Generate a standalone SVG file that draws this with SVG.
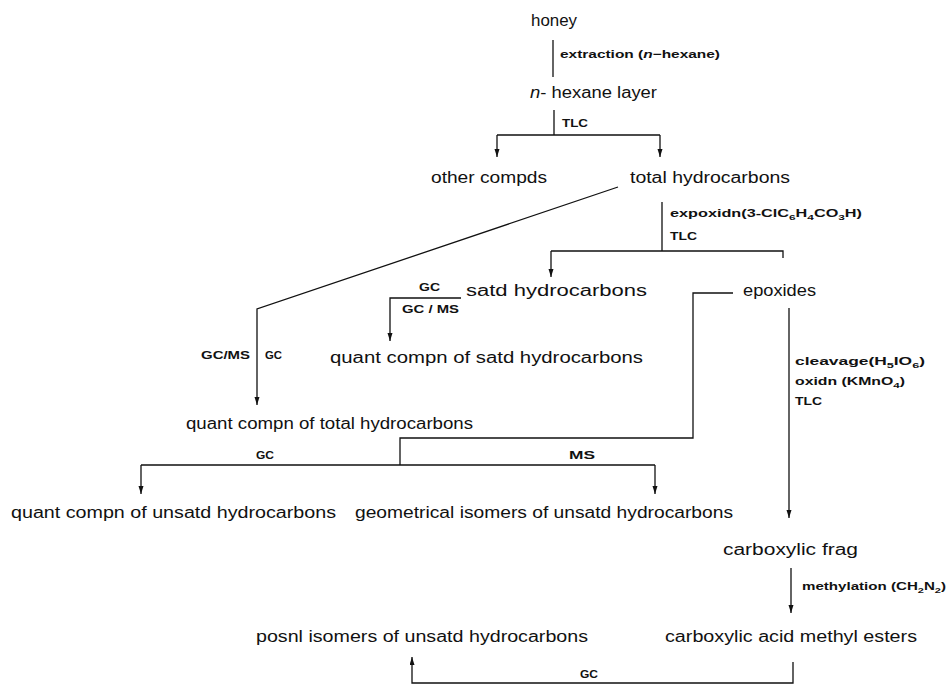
<svg xmlns="http://www.w3.org/2000/svg" width="947" height="685" viewBox="0 0 947 685">
<style>
.n{font-family:"Liberation Sans",Arial,sans-serif;font-size:16px;fill:#111}
.l{font-family:"Liberation Sans",Arial,sans-serif;font-size:11px;font-weight:bold;fill:#111}
.c{fill:none;stroke:#111;stroke-width:1.3}
.s{font-size:8px}
</style>
<defs>
<marker id="ah" markerWidth="9" markerHeight="6" refX="8" refY="2.5" orient="auto" markerUnits="userSpaceOnUse">
<path d="M0,0 L8,2.5 L0,5 z" fill="#111"/>
</marker>
</defs>
<rect width="947" height="685" fill="#fff"/>
<g id="connectors">
<path class="c" d="M553,40 V77"/>
<path class="c" d="M554,110 V135 M497,135 H660"/>
<path class="c" d="M497,135 V157" marker-end="url(#ah)"/>
<path class="c" d="M660,135 V157" marker-end="url(#ah)"/>
<path class="c" d="M618,187 L257,309 V405" marker-end="url(#ah)"/>
<path class="c" d="M662,202 V251 M551,251 H783 V258"/>
<path class="c" d="M551,251 V277" marker-end="url(#ah)"/>
<path class="c" d="M461,298 H390 V341" marker-end="url(#ah)"/>
<path class="c" d="M733,293 H693 V438 H400 V465 M141,465 H655"/>
<path class="c" d="M141,465 V494" marker-end="url(#ah)"/>
<path class="c" d="M655,465 V494" marker-end="url(#ah)"/>
<path class="c" d="M789,308 V518" marker-end="url(#ah)"/>
<path class="c" d="M791,568 V613" marker-end="url(#ah)"/>
<path class="c" d="M793,662 V683 H412 V657" marker-end="url(#ah)"/>
<text class="l" x="560" y="58" textLength="160" lengthAdjust="spacingAndGlyphs">extraction (<tspan font-style="italic">n</tspan>−hexane)</text>
<text class="l" x="562" y="127" textLength="26" lengthAdjust="spacingAndGlyphs">TLC</text>
<text class="l" x="670" y="217" textLength="192" lengthAdjust="spacingAndGlyphs">expoxidn(3-ClC<tspan class="s" dy="3">6</tspan><tspan dy="-3">H</tspan><tspan class="s" dy="3">4</tspan><tspan dy="-3">CO</tspan><tspan class="s" dy="3">3</tspan><tspan dy="-3">H)</tspan></text>
<text class="l" x="670" y="240" textLength="27" lengthAdjust="spacingAndGlyphs">TLC</text>
<text class="l" x="419" y="291" textLength="21" lengthAdjust="spacingAndGlyphs">GC</text>
<text class="l" x="402" y="313" textLength="57" lengthAdjust="spacingAndGlyphs">GC / MS</text>
<text class="l" x="201" y="359" textLength="49" lengthAdjust="spacingAndGlyphs">GC/MS</text>
<text class="l" x="265" y="359" textLength="17" lengthAdjust="spacingAndGlyphs">GC</text>
<text class="l" x="256" y="459" textLength="18" lengthAdjust="spacingAndGlyphs">GC</text>
<text class="l" x="569" y="459" textLength="26" lengthAdjust="spacingAndGlyphs">MS</text>
<text class="l" x="795" y="365" textLength="130" lengthAdjust="spacingAndGlyphs">cleavage(H<tspan class="s" dy="3">5</tspan><tspan dy="-3">IO</tspan><tspan class="s" dy="3">6</tspan><tspan dy="-3">)</tspan></text>
<text class="l" x="795" y="385" textLength="110" lengthAdjust="spacingAndGlyphs">oxidn (KMnO<tspan class="s" dy="3">4</tspan><tspan dy="-3">)</tspan></text>
<text class="l" x="795" y="405" textLength="27" lengthAdjust="spacingAndGlyphs">TLC</text>
<text class="l" x="802" y="590" textLength="144" lengthAdjust="spacingAndGlyphs">methylation (CH<tspan class="s" dy="3">2</tspan><tspan dy="-3">N</tspan><tspan class="s" dy="3">2</tspan><tspan dy="-3">)</tspan></text>
<text class="l" x="580" y="678" textLength="18" lengthAdjust="spacingAndGlyphs">GC</text>
</g>
<g id="honey"><text class="n" x="531" y="26" textLength="46" lengthAdjust="spacingAndGlyphs">honey</text></g>
<g id="hexane-layer"><text class="n" x="530" y="98" textLength="127" lengthAdjust="spacingAndGlyphs"><tspan font-style="italic">n</tspan>- hexane layer</text></g>
<g id="other-compds"><text class="n" x="431" y="183" textLength="116" lengthAdjust="spacingAndGlyphs">other compds</text></g>
<g id="total-hydrocarbons"><text class="n" x="630" y="183" textLength="160" lengthAdjust="spacingAndGlyphs">total  hydrocarbons</text></g>
<g id="satd-hydrocarbons"><text class="n" x="466" y="296" textLength="181" lengthAdjust="spacingAndGlyphs">satd  hydrocarbons</text></g>
<g id="epoxides"><text class="n" x="743" y="296" textLength="73" lengthAdjust="spacingAndGlyphs">epoxides</text></g>
<g id="quant-satd"><text class="n" x="330" y="363" textLength="313" lengthAdjust="spacingAndGlyphs">quant  compn of satd hydrocarbons</text></g>
<g id="quant-total"><text class="n" x="186" y="429" textLength="287" lengthAdjust="spacingAndGlyphs">quant  compn  of  total  hydrocarbons</text></g>
<g id="quant-unsatd"><text class="n" x="11" y="518" textLength="325" lengthAdjust="spacingAndGlyphs">quant  compn of unsatd hydrocarbons</text></g>
<g id="geometrical-isomers"><text class="n" x="355" y="518" textLength="378" lengthAdjust="spacingAndGlyphs">geometrical isomers of unsatd hydrocarbons</text></g>
<g id="carboxylic-frag"><text class="n" x="723" y="555" textLength="135" lengthAdjust="spacingAndGlyphs">carboxylic  frag</text></g>
<g id="posnl-isomers"><text class="n" x="256" y="642" textLength="332" lengthAdjust="spacingAndGlyphs">posnl isomers of  unsatd hydrocarbons</text></g>
<g id="methyl-esters"><text class="n" x="665" y="642" textLength="252" lengthAdjust="spacingAndGlyphs">carboxylic  acid methyl esters</text></g>
</svg>
